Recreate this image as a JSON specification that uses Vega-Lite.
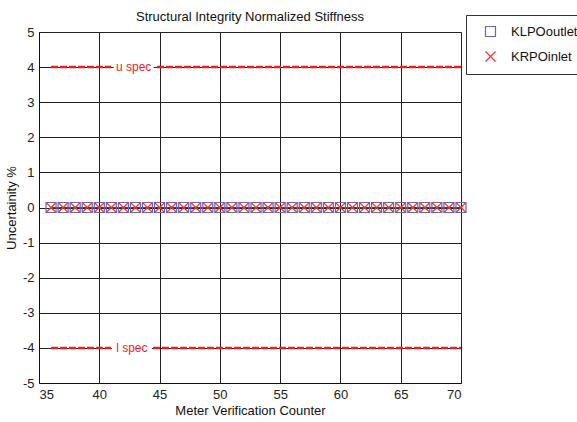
{
  "$schema": "https://vega.github.io/schema/vega-lite/v6.json",
  "width": 422,
  "height": 351,
  "autosize": "none",
  "padding": {"left": 39, "top": 32, "right": 116, "bottom": 39},
  "background": "white",
  "title": {"text": "Structural Integrity Normalized Stiffness", "fontSize": 13, "fontWeight": "normal", "font": "Liberation Sans", "color": "#111", "offset": 9, "dy": 18, "anchor": "middle", "frame": "group"},
  "config": {
    "font": "Liberation Sans",
    "view": {"stroke": "#888", "strokeWidth": 1},
    "axis": {"labelFont": "Liberation Sans", "labelFontSize": 13, "labelColor": "#222", "titleFont": "Liberation Sans", "titleFontSize": 13, "titleFontWeight": "normal", "titleColor": "#111", "grid": true, "gridColor": "#222", "gridWidth": 1, "gridOpacity": 1, "domainColor": "#111", "ticks": false, "labelPadding": 5, "labelOverlap": false, "labelExpr": "'' + datum.value"}
  },
  "datasets": {
    "pts": [
      {"x":36,"y":0,"series":"KLPOoutlet"},{"x":37,"y":0,"series":"KLPOoutlet"},{"x":38,"y":0,"series":"KLPOoutlet"},{"x":39,"y":0,"series":"KLPOoutlet"},{"x":40,"y":0,"series":"KLPOoutlet"},{"x":41,"y":0,"series":"KLPOoutlet"},{"x":42,"y":0,"series":"KLPOoutlet"},{"x":43,"y":0,"series":"KLPOoutlet"},{"x":44,"y":0,"series":"KLPOoutlet"},{"x":45,"y":0,"series":"KLPOoutlet"},{"x":46,"y":0,"series":"KLPOoutlet"},{"x":47,"y":0,"series":"KLPOoutlet"},{"x":48,"y":0,"series":"KLPOoutlet"},{"x":49,"y":0,"series":"KLPOoutlet"},{"x":50,"y":0,"series":"KLPOoutlet"},{"x":51,"y":0,"series":"KLPOoutlet"},{"x":52,"y":0,"series":"KLPOoutlet"},{"x":53,"y":0,"series":"KLPOoutlet"},{"x":54,"y":0,"series":"KLPOoutlet"},{"x":55,"y":0,"series":"KLPOoutlet"},{"x":56,"y":0,"series":"KLPOoutlet"},{"x":57,"y":0,"series":"KLPOoutlet"},{"x":58,"y":0,"series":"KLPOoutlet"},{"x":59,"y":0,"series":"KLPOoutlet"},{"x":60,"y":0,"series":"KLPOoutlet"},{"x":61,"y":0,"series":"KLPOoutlet"},{"x":62,"y":0,"series":"KLPOoutlet"},{"x":63,"y":0,"series":"KLPOoutlet"},{"x":64,"y":0,"series":"KLPOoutlet"},{"x":65,"y":0,"series":"KLPOoutlet"},{"x":66,"y":0,"series":"KLPOoutlet"},{"x":67,"y":0,"series":"KLPOoutlet"},{"x":68,"y":0,"series":"KLPOoutlet"},{"x":69,"y":0,"series":"KLPOoutlet"},{"x":70,"y":0,"series":"KLPOoutlet"},
      {"x":36,"y":0,"series":"KRPOinlet"},{"x":37,"y":0,"series":"KRPOinlet"},{"x":38,"y":0,"series":"KRPOinlet"},{"x":39,"y":0,"series":"KRPOinlet"},{"x":40,"y":0,"series":"KRPOinlet"},{"x":41,"y":0,"series":"KRPOinlet"},{"x":42,"y":0,"series":"KRPOinlet"},{"x":43,"y":0,"series":"KRPOinlet"},{"x":44,"y":0,"series":"KRPOinlet"},{"x":45,"y":0,"series":"KRPOinlet"},{"x":46,"y":0,"series":"KRPOinlet"},{"x":47,"y":0,"series":"KRPOinlet"},{"x":48,"y":0,"series":"KRPOinlet"},{"x":49,"y":0,"series":"KRPOinlet"},{"x":50,"y":0,"series":"KRPOinlet"},{"x":51,"y":0,"series":"KRPOinlet"},{"x":52,"y":0,"series":"KRPOinlet"},{"x":53,"y":0,"series":"KRPOinlet"},{"x":54,"y":0,"series":"KRPOinlet"},{"x":55,"y":0,"series":"KRPOinlet"},{"x":56,"y":0,"series":"KRPOinlet"},{"x":57,"y":0,"series":"KRPOinlet"},{"x":58,"y":0,"series":"KRPOinlet"},{"x":59,"y":0,"series":"KRPOinlet"},{"x":60,"y":0,"series":"KRPOinlet"},{"x":61,"y":0,"series":"KRPOinlet"},{"x":62,"y":0,"series":"KRPOinlet"},{"x":63,"y":0,"series":"KRPOinlet"},{"x":64,"y":0,"series":"KRPOinlet"},{"x":65,"y":0,"series":"KRPOinlet"},{"x":66,"y":0,"series":"KRPOinlet"},{"x":67,"y":0,"series":"KRPOinlet"},{"x":68,"y":0,"series":"KRPOinlet"},{"x":69,"y":0,"series":"KRPOinlet"},{"x":70,"y":0,"series":"KRPOinlet"}
    ],
    "spec": [
      {"x":36,"xend":40.97,"y":4},
      {"x":44.79,"xend":70,"y":4},
      {"x":36,"xend":40.97,"y":-4},
      {"x":44.45,"xend":70,"y":-4}
    ],
    "speclabels": [
      {"x":42.85,"y":4,"text":"u spec"},
      {"x":42.7,"y":-4,"text":"l spec"}
    ]
  },
  "encoding": {
    "x": {"field": "x", "type": "quantitative", "scale": {"domain": [35, 70], "nice": false}, "axis": {"values": [35,40,45,50,55,60,65,70], "tickCount": 20, "title": "Meter Verification Counter", "titlePadding": 3}},
    "y": {"field": "y", "type": "quantitative", "scale": {"domain": [-5, 5], "nice": false}, "axis": {"values": [-5,-4,-3,-2,-1,0,1,2,3,4,5], "tickCount": 20, "labelOverlap": false, "title": "Uncertainity %", "titlePadding": 4}}
  },
  "layer": [
    {
      "data": {"name": "spec"},
      "mark": {"type": "rule", "color": "#ee1c24", "strokeWidth": 2.5, "strokeDash": [7, 2]},
      "encoding": {
        "x2": {"field": "xend"}
      }
    },
    {
      "data": {"name": "speclabels"},
      "mark": {"type": "point", "shape": "M-1,-0.3H1V0.3H-1Z", "filled": true, "fill": "white", "strokeWidth": 0, "opacity": 1, "size": 1600},
      "encoding": {}
    },
    {
      "data": {"name": "speclabels"},
      "mark": {"type": "text", "color": "#ee1c24", "fontSize": 12, "baseline": "middle", "align": "center", "font": "Liberation Sans"},
      "encoding": {
        "text": {"field": "text"}
      }
    },
    {
      "data": {"name": "pts"},
      "transform": [{"filter": "datum.series === 'KLPOoutlet'"}],
      "mark": {"type": "line", "color": "#2b3f8f", "strokeWidth": 1},
      "encoding": {}
    },
    {
      "data": {"name": "pts"},
      "mark": {"type": "point", "filled": false, "strokeWidth": 1.2, "size": 100, "opacity": 1},
      "encoding": {
        "stroke": {"field": "series", "type": "nominal", "scale": {"domain": ["KLPOoutlet", "KRPOinlet"], "range": ["#5a6cb8", "#ff3030"]},
          "legend": {"title": null, "orient": "none", "legendX": 427, "legendY": -17, "strokeColor": "#333", "fillColor": "white", "padding": 10, "labelFontSize": 13, "labelFont": "Liberation Sans", "labelColor": "#111", "symbolSize": 100, "symbolStrokeWidth": 1.2, "rowPadding": 10, "labelOffset": 14, "symbolOffset": 8}},
        "shape": {"field": "series", "type": "nominal", "scale": {"domain": ["KLPOoutlet", "KRPOinlet"], "range": ["square", "M-1,-1L1,1M-1,1L1,-1"]}}
      }
    }
  ]
}
